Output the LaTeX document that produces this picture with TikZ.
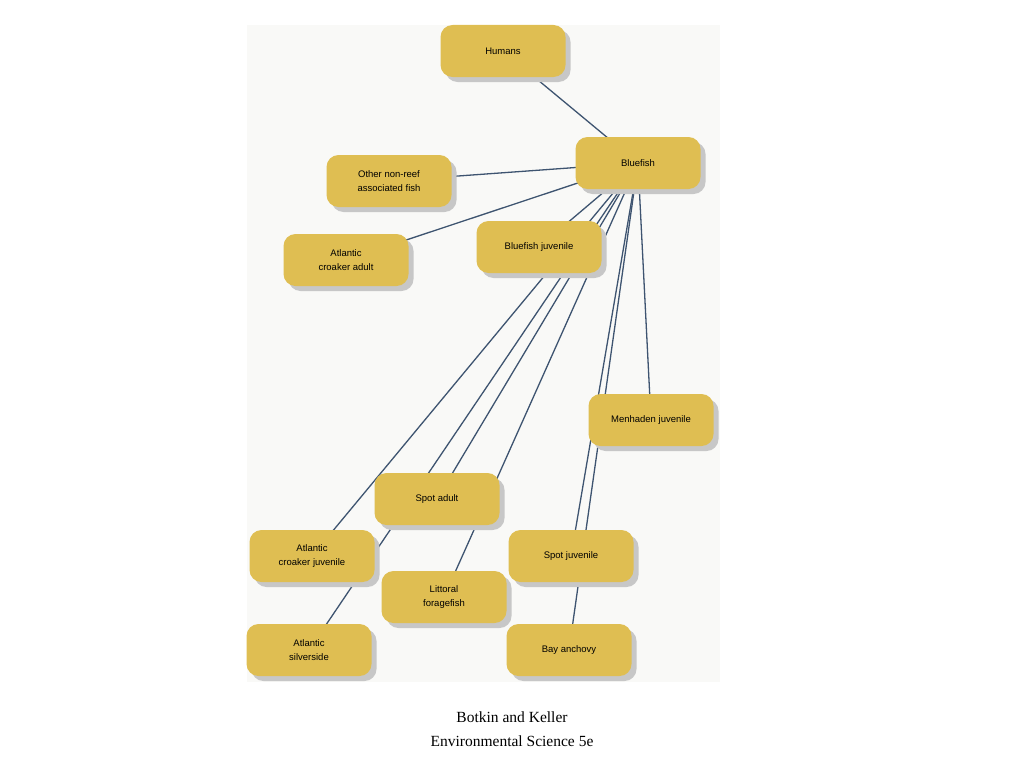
\documentclass[tikz,border=0pt]{standalone}
\usepackage{fontspec}
\setmainfont{Liberation Sans}
\newfontfamily\capfont{Liberation Serif}
\usetikzlibrary{backgrounds,shadows}
\definecolor{boxfill}{RGB}{223,190,82}
\definecolor{edgecol}{RGB}{62,84,112}
\definecolor{panel}{RGB}{249,249,247}
\begin{document}
\begin{tikzpicture}[x=1pt,y=-1pt,
  sp/.style={draw=none,fill=boxfill,rounded corners=12pt,minimum width=125pt,minimum height=52pt,align=center,font=\fontsize{9.5}{14}\selectfont,inner sep=2pt,
    drop shadow={shadow xshift=5pt,shadow yshift=-5pt,fill=black!22,opacity=1}},
  ln/.style={draw=edgecol,line width=1.3pt}]
\useasboundingbox (0,0) rectangle (1024,768);
\node[sp] (hum) at (503,51) {Humans};
\node[sp] (bf) at (638,163) {Bluefish};
\node[sp] (oth) at (389,181) {Other non-reef\\associated fish};
\node[sp] (aca) at (346,260) {Atlantic\\croaker adult};
\node[sp] (bfj) at (539,247) {Bluefish juvenile};
\node[sp] (men) at (651,420) {Menhaden juvenile};
\node[sp] (spa) at (437,499) {Spot adult};
\node[sp] (acj) at (312,556) {Atlantic\\croaker juvenile};
\node[sp] (spj) at (571,556) {Spot juvenile};
\node[sp] (lit) at (444,597) {Littoral\\foragefish};
\node[sp] (sil) at (309,650) {Atlantic\\silverside};
\node[sp] (bay) at (569,650) {Bay anchovy};
\begin{scope}[on background layer]
\fill[panel] (247,25) rectangle (720,682);
\draw[ln] (hum.center) -- (bf.center);
\foreach \t in {oth,aca,bfj,men,spa,acj,spj,lit,sil,bay}
  \draw[ln] (bf.center) -- (\t.center);
\end{scope}
\node[font=\capfont\fontsize{15.5}{24}\selectfont,align=center] (cap) at (512,729) {Botkin and Keller\\Environmental Science 5e};
\end{tikzpicture}
\end{document}
